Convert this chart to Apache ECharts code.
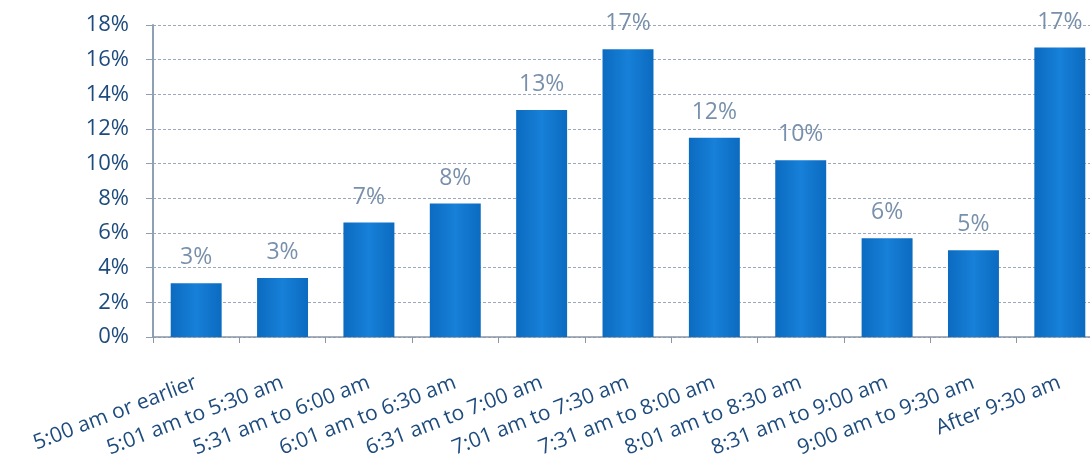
<!DOCTYPE html>
<html>
<head>
<meta charset="utf-8">
<script src="https://cdn.jsdelivr.net/npm/echarts@6/dist/echarts.min.js"></script>
<style>
  html, body { margin: 0; padding: 0; background: #fff; }
  #chart { width: 1090px; height: 464px; }
</style>
</head>
<body>
<div id="chart"></div>
<script>
// arrival time buckets
const categories = [
  "5:00 am or earlier", "5:01 am to 5:30 am", "5:31 am to 6:00 am",
  "6:01 am to 6:30 am", "6:31 am to 7:00 am", "7:01 am to 7:30 am",
  "7:31 am to 8:00 am", "8:01 am to 8:30 am", "8:31 am to 9:00 am",
  "9:00 am to 9:30 am", "After 9:30 am"
];
// share of respondents, percent
const shares = [3.1, 3.4, 6.6, 7.7, 13.1, 16.6, 11.5, 10.2, 5.7, 5.0, 16.7];
const yTicks = [0, 2, 4, 6, 8, 10, 12, 14, 16, 18];

const font = "'Open Sans', sans-serif";
const chart = echarts.init(document.getElementById("chart"));

chart.setOption({
  animation: false,
  // plot runs past the right edge, like the cropped original
  grid: { left: 153, top: 25, width: 950, height: 312, outerBoundsMode: "none", containLabel: false },
  xAxis: {
    type: "category",
    data: categories,
    axisLine: { lineStyle: { color: "#8a96a6", width: 1.5 } },
    axisTick: { show: true, length: 6, lineStyle: { color: "#8a96a6" } },
    axisLabel: {
      rotate: 21,
      margin: 45,
      color: "#1d4b7d",
      fontFamily: font,
      fontSize: 21,
      interval: 0
    }
  },
  yAxis: {
    type: "value",
    min: yTicks[0],
    max: yTicks[yTicks.length - 1],
    interval: 2,
    axisLine: { show: true, lineStyle: { color: "#8ea0b5", width: 2 } },
    axisTick: { show: true, length: 7, lineStyle: { color: "#8ea0b5" } },
    splitLine: { lineStyle: { color: "#9aa8ba", type: [3, 2], width: 1 } },
    axisLabel: {
      margin: 24,
      color: "#1d4b7d",
      fontFamily: font,
      fontSize: 22,
      formatter: v => v + "%"
    }
  },
  series: [
    {
      type: "bar",
      data: shares,
      barCategoryGap: "41%",
      itemStyle: {
        color: new echarts.graphic.LinearGradient(0, 0, 1, 0, [
          { offset: 0, color: "#0b6bc0" },
          { offset: 0.5, color: "#1780d8" },
          { offset: 1, color: "#0b6bc0" }
        ])
      },
      label: {
        show: true,
        position: "top",
        distance: 14,
        color: "#7890ab",
        fontFamily: font,
        fontSize: 23,
        formatter: p => Math.round(p.value) + "%"
      }
    }
  ]
});
</script>
</body>
</html>
